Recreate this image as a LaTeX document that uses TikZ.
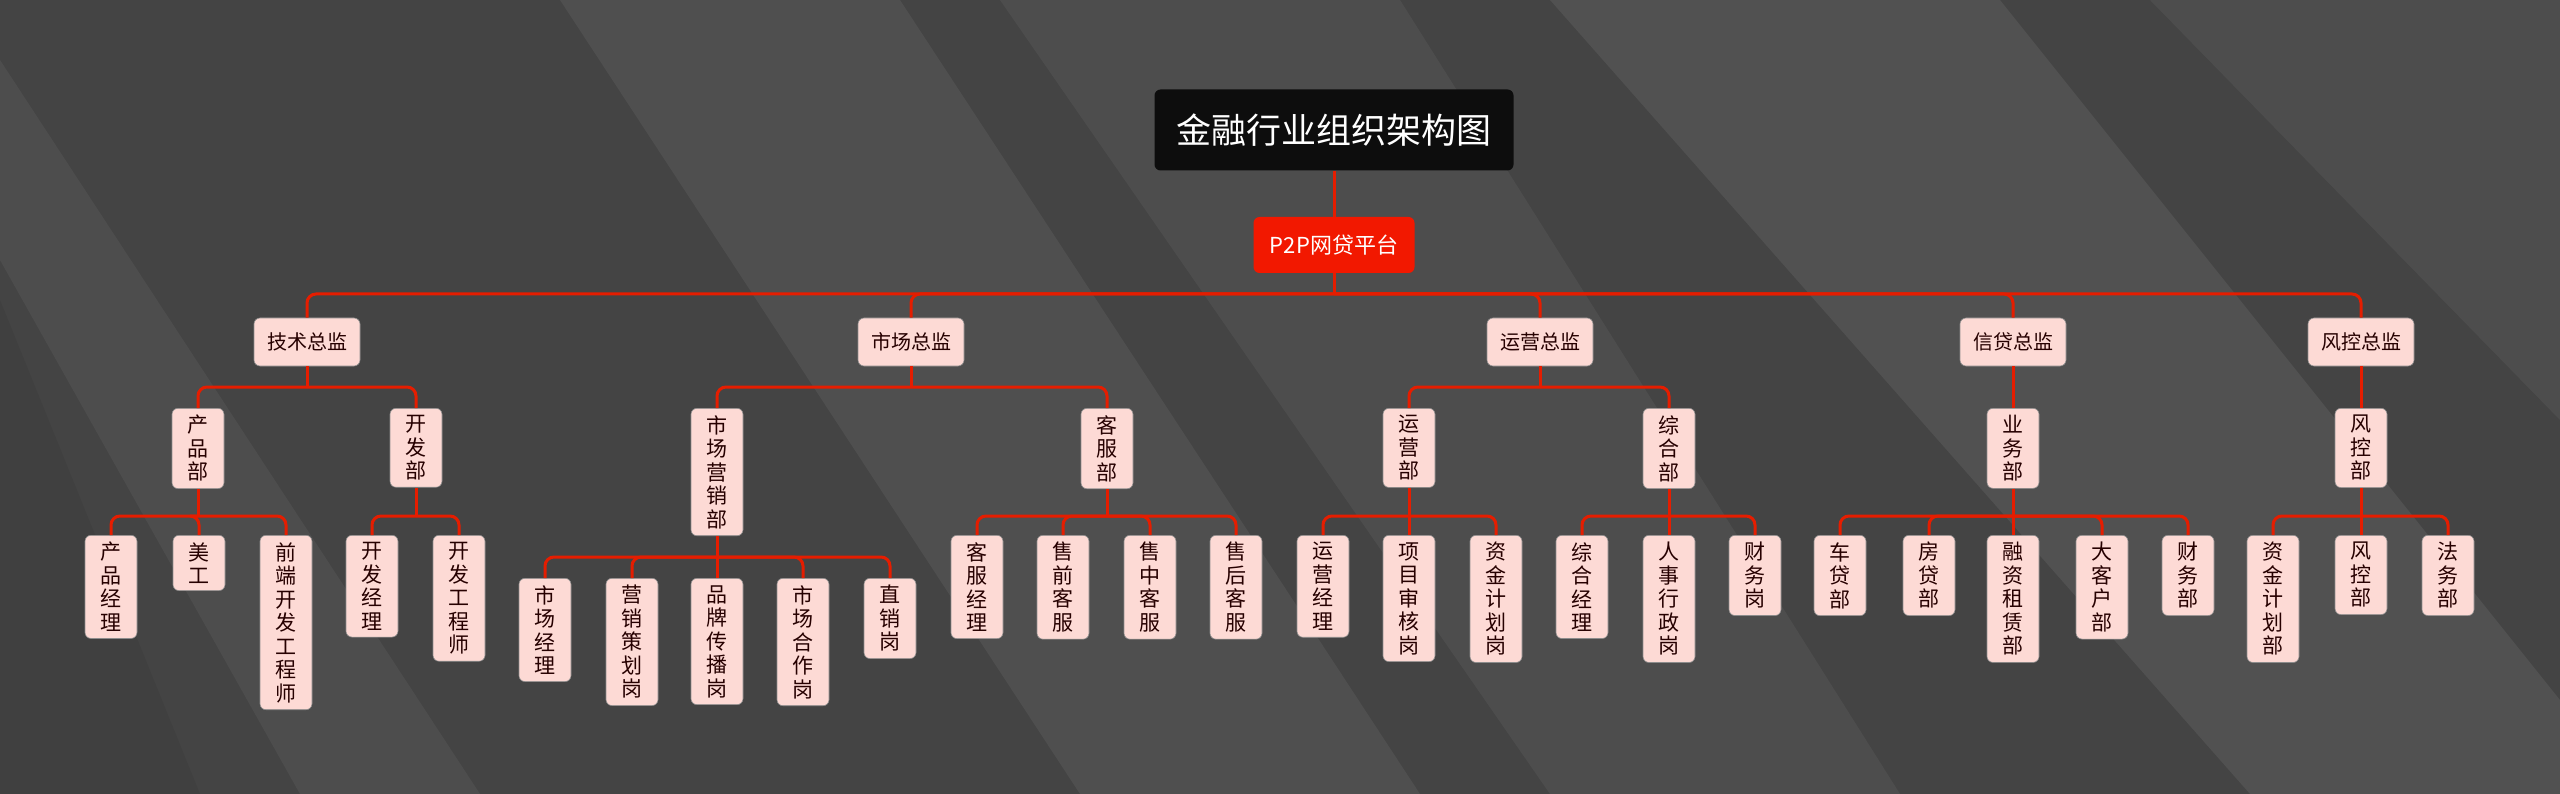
\documentclass[tikz,border=0pt]{standalone}
\usepackage{fontspec}
\setmainfont{Noto Sans CJK SC}
\begin{document}
\begin{tikzpicture}[x=1pt,y=-1pt,
  conn/.style={draw=red!75!orange!90!black,line width=3pt},
  boxbase/.style={fill=nodefill,draw=black!45,line width=0.6pt,rounded corners=6pt,text=black!85!red,font=\fontsize{21}{23.5}\selectfont,align=center,inner sep=0pt},
  lone/.style={boxbase,font=\fontsize{20}{24}\selectfont,minimum width=106pt,minimum height=48pt},
  vbox/.style={boxbase,anchor=north,text width=24pt,minimum width=52pt,inner ysep=7pt}]
\definecolor{bg}{HTML}{444444}
\definecolor{nodefill}{HTML}{FDDAD5}
\fill[bg] (0,0) rectangle (2560,794);
\useasboundingbox (0,0) rectangle (2560,794);
\begin{scope}
\clip (0,0) rectangle (2560,794);
\fill[white,opacity=0.05] (0,60) -- (0,260) -- (300,794) -- (480,794) -- cycle;
\fill[white,opacity=0.06] (560,0) -- (900,0) -- (1420,794) -- (1080,794) -- cycle;
\fill[white,opacity=0.05] (1000,0) -- (1400,0) -- (1900,794) -- (1550,794) -- cycle;
\fill[white,opacity=0.07] (1550,0) -- (2000,0) -- (2560,700) -- (2560,794) -- (2250,794) -- cycle;
\fill[white,opacity=0.05] (2150,0) -- (2560,0) -- (2560,420) -- cycle;
\fill[black,opacity=0.06] (0,300) -- (200,794) -- (0,794) -- cycle;
\end{scope}
\node[fill=black!95,rounded corners=6pt,text=white,font=\fontsize{35}{40}\selectfont,minimum width=359pt,minimum height=81pt] (title) at (1334,130) {金融行业组织架构图};
\node[fill=red!80!orange!95!black,rounded corners=6pt,text=white,font=\fontsize{22}{26}\selectfont,minimum width=161pt,minimum height=56pt] (p2p) at (1334,245) {P2P网贷平台};
\draw[conn] (title.south) -- (p2p.north);
% level 1
\node[lone] (a) at (307,342) {技术总监};
\node[lone] (b) at (911,342) {市场总监};
\node[lone] (c) at (1540,342) {运营总监};
\node[lone] (d) at (2013,342) {信贷总监};
\node[lone] (e) at (2361,342) {风控总监};
% level 2
\node[vbox] (a1) at (198,408) {产\\品\\部};
\node[vbox] (a2) at (416,408) {开\\发\\部};
\node[vbox] (b1) at (717,408) {市\\场\\营\\销\\部};
\node[vbox] (b2) at (1107,408) {客\\服\\部};
\node[vbox] (c1) at (1409,408) {运\\营\\部};
\node[vbox] (c2) at (1669,408) {综\\合\\部};
\node[vbox] (d1) at (2013,408) {业\\务\\部};
\node[vbox] (e1) at (2361,408) {风\\控\\部};
% leaves
\node[vbox] (a11) at (111,535) {产\\品\\经\\理};
\node[vbox] (a12) at (199,535) {美\\工};
\node[vbox] (a13) at (286,535) {前\\端\\开\\发\\工\\程\\师};
\node[vbox] (a21) at (372,535) {开\\发\\经\\理};
\node[vbox] (a22) at (459,535) {开\\发\\工\\程\\师};
\node[vbox] (b11) at (545,578) {市\\场\\经\\理};
\node[vbox] (b12) at (632,578) {营\\销\\策\\划\\岗};
\node[vbox] (b13) at (717,578) {品\\牌\\传\\播\\岗};
\node[vbox] (b14) at (803,578) {市\\场\\合\\作\\岗};
\node[vbox] (b15) at (890,578) {直\\销\\岗};
\node[vbox] (b21) at (977,535) {客\\服\\经\\理};
\node[vbox] (b22) at (1063,535) {售\\前\\客\\服};
\node[vbox] (b23) at (1150,535) {售\\中\\客\\服};
\node[vbox] (b24) at (1236,535) {售\\后\\客\\服};
\node[vbox] (c11) at (1323,535) {运\\营\\经\\理};
\node[vbox] (c12) at (1409,535) {项\\目\\审\\核\\岗};
\node[vbox] (c13) at (1496,535) {资\\金\\计\\划\\岗};
\node[vbox] (c21) at (1582,535) {综\\合\\经\\理};
\node[vbox] (c22) at (1669,535) {人\\事\\行\\政\\岗};
\node[vbox] (c23) at (1755,535) {财\\务\\岗};
\node[vbox] (d11) at (1840,535) {车\\贷\\部};
\node[vbox] (d12) at (1929,535) {房\\贷\\部};
\node[vbox] (d13) at (2013,535) {融\\资\\租\\赁\\部};
\node[vbox] (d14) at (2102,535) {大\\客\\户\\部};
\node[vbox] (d15) at (2188,535) {财\\务\\部};
\node[vbox] (e11) at (2273,535) {资\\金\\计\\划\\部};
\node[vbox] (e12) at (2361,535) {风\\控\\部};
\node[vbox] (e13) at (2448,535) {法\\务\\部};
% buses
\coordinate (B0) at (0,294);
\coordinate (B1) at (0,387);
\coordinate (B2) at (0,516);
\coordinate (B3) at (0,557);
\foreach \p/\bus/\kids in {p2p/B0/{a,b,c,d,e}, a/B1/{a1,a2}, b/B1/{b1,b2}, c/B1/{c1,c2}, d/B1/{d1}, e/B1/{e1},
  a1/B2/{a11,a12,a13}, a2/B2/{a21,a22}, b1/B3/{b11,b12,b13,b14,b15}, b2/B2/{b21,b22,b23,b24},
  c1/B2/{c11,c12,c13}, c2/B2/{c21,c22,c23}, d1/B2/{d11,d12,d13,d14,d15}, e1/B2/{e11,e12,e13}}{
  \draw[conn] (\p.south) -- (\p.south |- \bus);
  \foreach \k in \kids {\draw[conn,rounded corners=9pt] (\p.south |- \bus) -| (\k.north);}
}
\end{tikzpicture}
\end{document}
